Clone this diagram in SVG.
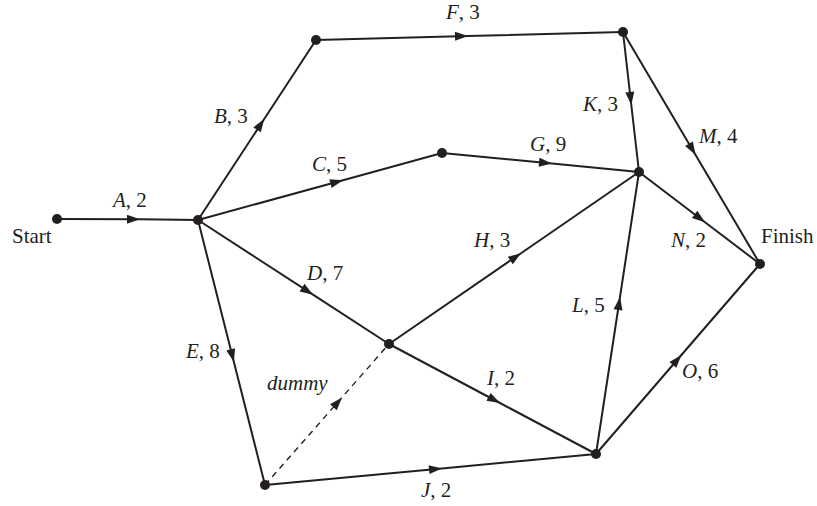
<svg xmlns="http://www.w3.org/2000/svg" width="817" height="506" viewBox="0 0 817 506">
<style>
.e{fill:none;stroke:#231f20;stroke-width:2;marker-mid:url(#ah)}
.d{stroke-dasharray:6 5;stroke-width:1.4}
.n{fill:#231f20}
text{font-family:"Liberation Serif","Times New Roman",serif;font-size:21px;fill:#231f20}
.i{font-style:italic}
</style>
<defs>
<marker id="ah" markerUnits="userSpaceOnUse" markerWidth="16" markerHeight="12" viewBox="-14 -6 16 12" refX="0" refY="0" orient="auto">
<path d="M-13,-4.5 L0,0 L-13,4.5 z" fill="#231f20"/>
</marker>
</defs>
<rect width="817" height="506" fill="#fff"/>
<g id="connectors">
<path id="eA" class="e" d="M57,219 L140,219.3 L198,220"/>
<path id="eB" class="e" d="M198,220 L264.2,119 L316,40"/>
<path id="eF" class="e" d="M316,40 L468,36 L623,32"/>
<path id="eC" class="e" d="M198,220 L343,180.2 L442,153"/>
<path id="eG" class="e" d="M442,153 L552,163.6 L639,172"/>
<path id="eK" class="e" d="M623,32 L631.3,105 L639,172"/>
<path id="eM" class="e" d="M623,32 L695.6,155 L760,264"/>
<path id="eN" class="e" d="M639,172 L705,222.2 L760,264"/>
<path id="eD" class="e" d="M198,220 L313,294.7 L389,344"/>
<path id="eE" class="e" d="M198,220 L233.9,362 L265,485"/>
<path id="eH" class="e" d="M389,344 L521,253.2 L639,172"/>
<path id="eI" class="e" d="M389,344 L500,403 L596,454"/>
<path id="eDummy" class="e d" d="M265,485 L342,397.4 L389,344"/>
<path id="eJ" class="e" d="M265,485 L442,468.4 L596,454"/>
<path id="eL" class="e" d="M596,454 L620,297 L639,172"/>
<path id="eO" class="e" d="M596,454 L681.4,355 L760,264"/>
</g>
<g id="labels">
<text x="113" y="207"><tspan class="i">A</tspan>, 2</text>
<text x="446" y="19"><tspan class="i">F</tspan>, 3</text>
<text x="214" y="123"><tspan class="i">B</tspan>, 3</text>
<text x="312" y="171"><tspan class="i">C</tspan>, 5</text>
<text x="530" y="151"><tspan class="i">G</tspan>, 9</text>
<text x="583" y="111"><tspan class="i">K</tspan>, 3</text>
<text x="699" y="143"><tspan class="i">M</tspan>, 4</text>
<text x="671" y="247"><tspan class="i">N</tspan>, 2</text>
<text x="474" y="247"><tspan class="i">H</tspan>, 3</text>
<text x="307" y="280"><tspan class="i">D</tspan>, 7</text>
<text x="186" y="358"><tspan class="i">E</tspan>, 8</text>
<text x="572" y="312"><tspan class="i">L</tspan>, 5</text>
<text x="267" y="390" class="i">dummy</text>
<text x="487" y="385"><tspan class="i">I</tspan>, 2</text>
<text x="682" y="378"><tspan class="i">O</tspan>, 6</text>
<text x="421" y="497"><tspan class="i">J</tspan>, 2</text>
</g>
<g id="nStart"><circle class="n" cx="57" cy="219" r="5"/><text x="12" y="243">Start</text></g>
<g id="n1"><circle class="n" cx="198" cy="220" r="5"/></g>
<g id="n2"><circle class="n" cx="316" cy="40" r="5"/></g>
<g id="n3"><circle class="n" cx="623" cy="32" r="5"/></g>
<g id="n4"><circle class="n" cx="442" cy="153" r="5"/></g>
<g id="n5"><circle class="n" cx="639" cy="172" r="5"/></g>
<g id="nFinish"><circle class="n" cx="760" cy="264" r="5"/><text x="761" y="243">Finish</text></g>
<g id="n6"><circle class="n" cx="389" cy="344" r="5"/></g>
<g id="n7"><circle class="n" cx="265" cy="485" r="5"/></g>
<g id="n8"><circle class="n" cx="596" cy="454" r="5"/></g>
</svg>
